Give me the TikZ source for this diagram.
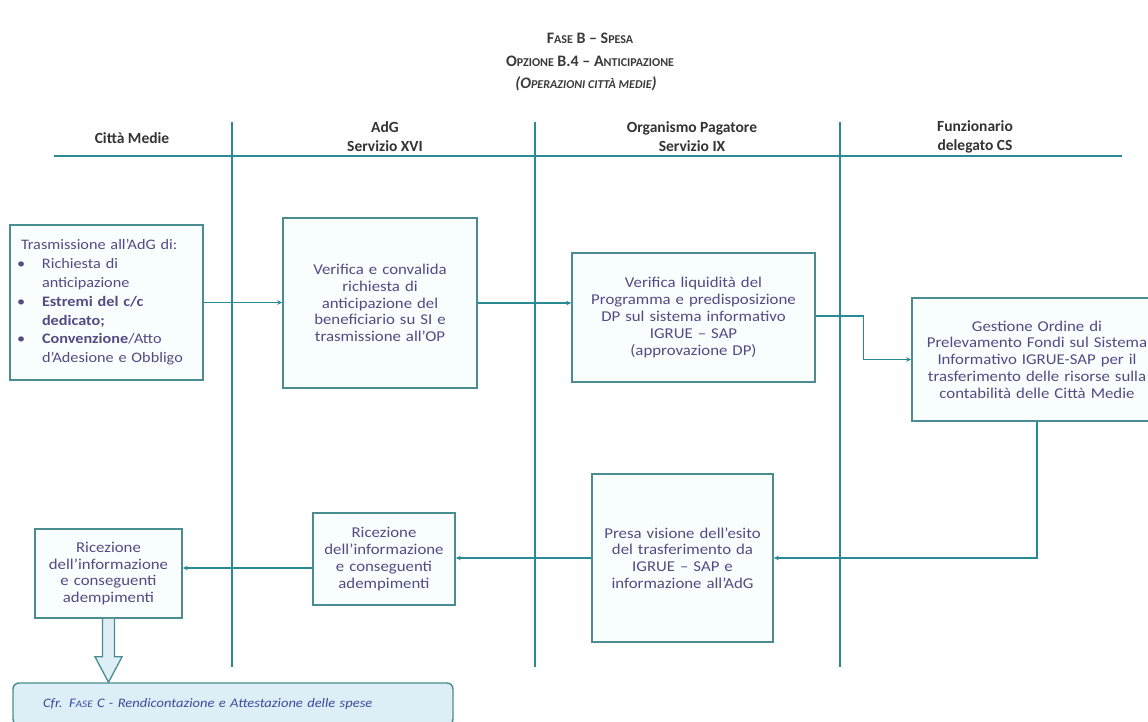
\documentclass[tikz,border=0pt]{standalone}
\usepackage{fontspec}
\setmainfont{Carlito}
\newfontfamily\boxfont{Carlito}[FakeStretch=1.12, Ligatures=TeX]
\usetikzlibrary{arrows.meta,calc}

\definecolor{lanec}{HTML}{2A8A94}
\definecolor{boxline}{HTML}{4A8C90}
\definecolor{boxfill}{HTML}{F8FDFE}
\definecolor{txtc}{HTML}{524C84}
\definecolor{headc}{HTML}{333333}
\definecolor{ttlc}{HTML}{3A3A3A}
\definecolor{barfill}{HTML}{DDEEF7}
\definecolor{bartxt}{HTML}{3C4C9E}

% fake small capitals
\newcommand\smc[1]{{\fontsize{12}{14}\selectfont #1}}
\newcommand\barsmc[1]{{\fontsize{10}{12}\selectfont #1}}
% bullet item marker with hanging indent
\newcommand\itm{\makebox[21pt][l]{\hspace*{-4pt}\textbullet}}
\newcommand\hang{\hspace*{21pt}}

\begin{document}
\begin{tikzpicture}[x=1pt,y=-1pt,
  lane/.style={draw=lanec, line width=2.2pt},
  proc/.style={draw=boxline, line width=1.6pt, fill=boxfill, text=txtc,
    inner sep=0pt, align=center, font=\boxfont\fontsize{15}{16.8}\selectfont},
  conn/.style={draw=lanec, line width=1.1pt, -{Stealth[length=5pt,width=4.5pt]}},
  hdr/.style={font=\bfseries\fontsize{15.5}{19}\selectfont, text=headc, align=center},
  ttl/.style={font=\bfseries\fontsize{16}{18}\selectfont, text=ttlc},
  hollow/.style={draw=boxline, line width=1.3pt, fill=barfill, line join=miter},
  barbox/.style={draw=boxline, line width=1.4pt, fill=barfill, rounded corners=6pt,
    text=bartxt, font=\boxfont\itshape\fontsize{13}{15}\selectfont}
]
\useasboundingbox (0,0) rectangle (1148,722);
\fill[white] (0,0) rectangle (1148,722);

% title
\node[ttl] (t1) at (590,38) {F\smc{ASE} B – S\smc{PESA}};
\node[ttl] (t2) at (590,61) {O\smc{PZIONE} B.4 – A\smc{NTICIPAZIONE}};
\node[ttl, font=\bfseries\itshape\fontsize{16}{18}\selectfont] (t3) at (586,84)
  {(O\smc{PERAZIONI CITTÀ MEDIE})};

% swimlane headers
\node[hdr] (h1) at (132,138) {Città Medie};
\node[hdr] (h2) at (385,137) {AdG\\Servizio XVI};
\node[hdr] (h3) at (692,137) {Organismo Pagatore\\Servizio IX};
\node[hdr] (h4) at (975,137) {Funzionario\\delegato CS};

% swimlane lines
\coordinate (hl) at (54,156);
\coordinate (hr) at (1122,156);
\draw[lane] (hl) -- (hr);
\coordinate (v1t) at (232,122); \coordinate (v1b) at (232,667);
\coordinate (v2t) at (535,122); \coordinate (v2b) at (535,667);
\coordinate (v3t) at (840,122); \coordinate (v3b) at (840,667);
\draw[lane] (v1t) -- (v1b);
\draw[lane] (v2t) -- (v2b);
\draw[lane] (v3t) -- (v3b);

% process boxes
\node[proc, minimum width=193pt, minimum height=155pt, text width=171pt,
  align=left, font=\boxfont\fontsize{14.5}{18.8}\selectfont] (b1) at (106.5,302.5)
  {Trasmissione all'AdG di:\\
   \itm Richiesta di\\
   \hang anticipazione\\
   \itm\textbf{Estremi del c/c}\\
   \hang\textbf{dedicato;}\\
   \itm\textbf{Convenzione}/Atto\\
   \hang d'Adesione e Obbligo};

\node[proc, minimum width=194pt, minimum height=170pt, text width=186pt] (b2) at (380,303)
  {Verifica e convalida\\richiesta di\\anticipazione del\\beneficiario su SI e\\trasmissione all'OP};

\node[proc, minimum width=243pt, minimum height=129pt, text width=237pt] (b3) at (693.5,317.5)
  {Verifica liquidità del\\Programma e predisposizione\\DP sul sistema informativo\\IGRUE – SAP\\(approvazione DP)};

\node[proc, minimum width=250pt, minimum height=123pt, text width=248pt] (b4) at (1037,359.5)
  {Gestione Ordine di\\Prelevamento Fondi sul Sistema\\Informativo IGRUE-SAP per il\\trasferimento delle risorse sulla\\contabilità delle Città Medie};

\node[proc, minimum width=181pt, minimum height=168pt, text width=177pt] (b5) at (682.5,558)
  {Presa visione dell'esito\\del trasferimento da\\IGRUE – SAP e\\informazione all'AdG};

\node[proc, minimum width=142pt, minimum height=92pt, text width=140pt] (b6) at (384,559)
  {Ricezione\\dell'informazione\\e conseguenti\\adempimenti};

\node[proc, minimum width=147pt, minimum height=89pt, text width=145pt] (b7) at (108.5,573.5)
  {Ricezione\\dell'informazione\\e conseguenti\\adempimenti};

% reference to the next phase
\node[barbox, minimum width=440pt, minimum height=42pt, text width=380pt, align=left]
  (bar) at (233,704)
  {Cfr. F\barsmc{ASE} C - Rendicontazione e Attestazione delle spese};

% flow connectors
\draw[conn] (b1.east) -- (b1.east -| b2.west);
\draw[conn] (b2.east) -- (b2.east -| b3.west);
\draw[conn] ([yshift=1.5pt]b3.east) -- ++(48,0) |- (b4.west);
\draw[conn] (b4.south) |- (b5.east);
\draw[conn] (b5.west) -- (b5.west -| b6.east);
\draw[conn] ([yshift=-9pt]b6.west) -- ([yshift=-9pt]b6.west -| b7.east);

% hollow block arrow down to the next phase
\draw[hollow]
  ($(b7.south)+(-6,0)$) -- ($(b7.south)+(-6,38)$) -- ($(b7.south)+(-13.5,38)$)
  -- (b7.south |- bar.north) -- ($(b7.south)+(13.5,38)$) -- ($(b7.south)+(6,38)$)
  -- ($(b7.south)+(6,0)$);
\end{tikzpicture}
\end{document}
